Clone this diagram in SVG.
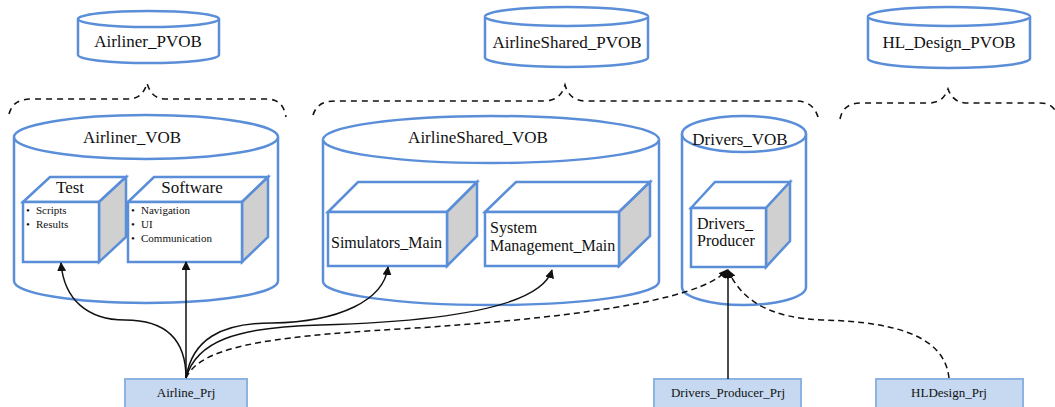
<svg xmlns="http://www.w3.org/2000/svg" width="1055" height="407" viewBox="0 0 1055 407">
<defs>
<style>
.cyl{fill:#fff;stroke:#5a8ed8;stroke-width:2.5}
.face{fill:#fff;stroke:#5a8ed8;stroke-width:2.5;stroke-linejoin:miter}
.side{fill:#d0d0d0;stroke:#5a8ed8;stroke-width:2.5}
.prj{fill:#c6d9f1;stroke:#8db3e2;stroke-width:2}
.t{font-family:"Liberation Serif","Times New Roman",serif;fill:#111}
.b{font-size:11px}
.brace{fill:none;stroke:#111;stroke-width:1.6;stroke-dasharray:6,5}
.c{fill:none;stroke:#111;stroke-width:1.5}
.d{stroke-dasharray:6,4}
</style>
<marker id="ah" viewBox="0 0 10 10" refX="9" refY="5" markerWidth="9" markerHeight="9" markerUnits="userSpaceOnUse" orient="auto">
<path d="M0,0 L10,5 L0,10 Z" fill="#111"/>
</marker>
</defs>

<g id="Airliner_PVOB">
<path class="cyl" d="M78,19 A70.5,8 0 0 1 219,19 L219,55 A70.5,8 0 0 1 78,55 Z"/>
<path class="cyl" d="M78,19 A70.5,8 0 0 0 219,19" fill="none"/>
<text class="t" x="148" y="47" font-size="17" text-anchor="middle">Airliner_PVOB</text>
</g>
<g id="AirlineShared_PVOB">
<path class="cyl" d="M485,16.5 A81.5,9.5 0 0 1 648,16.5 L648,57.5 A81.5,9.5 0 0 1 485,57.5 Z"/>
<path class="cyl" d="M485,16.5 A81.5,9.5 0 0 0 648,16.5" fill="none"/>
<text class="t" x="567" y="48" font-size="17" text-anchor="middle">AirlineShared_PVOB</text>
</g>
<g id="HL_Design_PVOB">
<path class="cyl" d="M868,16.5 A81,9.5 0 0 1 1030,16.5 L1030,58.5 A81,9.5 0 0 1 868,58.5 Z"/>
<path class="cyl" d="M868,16.5 A81,9.5 0 0 0 1030,16.5" fill="none"/>
<text class="t" x="949" y="48" font-size="17" text-anchor="middle">HL_Design_PVOB</text>
</g>

<g id="braces">
<path class="brace" d="M9,114 C12,104 18,99 32,99 L128,99 C138,99 144,94 147,83 C150,94 156,99 166,99 L266,99 C278,99 284,105 286,117"/>
<path class="brace" d="M313,115 C316,106 322,101 336,101 L544,101 C556,101 562,95 565,85 C568,95 574,101 586,101 L796,101 C808,101 815,107 818,117"/>
<path class="brace" d="M840,119 C842,109 848,103 862,103 L928,103 C940,103 945,97 948,89 C951,97 956,103 968,103 L1040,103 C1048,103 1052,106 1055,110"/>
</g>

<g id="Airliner_VOB">
<path class="cyl" d="M14,137 A132,22 0 0 1 278,137 L278,281 A132,22 0 0 1 14,281 Z"/>
<path class="cyl" d="M14,137 A132,22 0 0 0 278,137" fill="none"/>
<text class="t" x="132" y="143" font-size="17" text-anchor="middle">Airliner_VOB</text>
</g>
<g id="AirlineShared_VOB">
<path class="cyl" d="M323,139.5 A168,23.5 0 0 1 659,139.5 L659,281.5 A168,23.5 0 0 1 323,281.5 Z"/>
<path class="cyl" d="M323,139.5 A168,23.5 0 0 0 659,139.5" fill="none"/>
<text class="t" x="478" y="143" font-size="17" text-anchor="middle">AirlineShared_VOB</text>
</g>
<g id="Drivers_VOB">
<path class="cyl" d="M682,134 A62,18 0 0 1 806,134 L806,287 A62,18 0 0 1 682,287 Z"/>
<path class="cyl" d="M682,134 A62,18 0 0 0 806,134" fill="none"/>
<text class="t" x="740" y="145" font-size="17" text-anchor="middle">Drivers_VOB</text>
</g>

<g id="Test">
<polygon class="face" points="23,202 50,177 126,177 99,202"/>
<polygon class="side" points="99,202 126,177 126,237 99,262"/>
<rect class="face" x="23" y="202" width="76" height="60"/>
<text class="t" x="70" y="193" font-size="17" text-anchor="middle">Test</text>
<text class="t b" x="26" y="214">•</text><text class="t b" x="36" y="214">Scripts</text>
<text class="t b" x="26" y="228">•</text><text class="t b" x="36" y="228">Results</text>
</g>
<g id="Software">
<polygon class="face" points="128,202 154,177 268,177 242,202"/>
<polygon class="side" points="242,202 268,177 268,237 242,262"/>
<rect class="face" x="128" y="202" width="114" height="60"/>
<text class="t" x="192" y="193" font-size="17" text-anchor="middle">Software</text>
<text class="t b" x="131" y="214">•</text><text class="t b" x="141" y="214">Navigation</text>
<text class="t b" x="131" y="228">•</text><text class="t b" x="141" y="228">UI</text>
<text class="t b" x="131" y="242">•</text><text class="t b" x="141" y="242">Communication</text>
</g>
<g id="Simulators_Main">
<polygon class="face" points="328,212 358,182 477,182 447,212"/>
<polygon class="side" points="447,212 477,182 477,236 447,266"/>
<rect class="face" x="328" y="212" width="119" height="54"/>
<text class="t" x="331" y="248" font-size="16">Simulators_Main</text>
</g>
<g id="System_Management_Main">
<polygon class="face" points="485,212 516,182 650,182 619,212"/>
<polygon class="side" points="619,212 650,182 650,236 619,266"/>
<rect class="face" x="485" y="212" width="134" height="54"/>
<text class="t" font-size="16"><tspan x="490" y="233">System</tspan><tspan x="490" y="251">Management_Main</tspan></text>
</g>
<g id="Drivers_Producer">
<polygon class="face" points="691,208 715,182 790,182 766,208"/>
<polygon class="side" points="766,208 790,182 790,241 766,267"/>
<rect class="face" x="691" y="208" width="75" height="59"/>
<text class="t" font-size="16"><tspan x="697" y="229">Drivers_</tspan><tspan x="697" y="246">Producer</tspan></text>
</g>

<g id="Airline_Prj">
<rect class="prj" x="125" y="379" width="122" height="40"/>
<text class="t" x="186" y="397" font-size="13" text-anchor="middle">Airline_Prj</text>
</g>
<g id="Drivers_Producer_Prj">
<rect class="prj" x="654" y="379" width="147" height="40"/>
<text class="t" x="728" y="397" font-size="13" text-anchor="middle">Drivers_Producer_Prj</text>
</g>
<g id="HLDesign_Prj">
<rect class="prj" x="876" y="379" width="147" height="40"/>
<text class="t" x="949" y="397" font-size="13" text-anchor="middle">HLDesign_Prj</text>
</g>

<g id="connectors">
<path class="c" marker-end="url(#ah)" d="M186,378 C186,338 165,320 125,320 C88,320 64,300 61,263"/>
<path class="c" marker-end="url(#ah)" d="M186,378 L186,262"/>
<path class="c" marker-end="url(#ah)" d="M186,378 C192,340 220,323 272,323 C340,322 384,300 388,267"/>
<path class="c" marker-end="url(#ah)" d="M186,378 C196,342 235,327 320,325 C430,322 540,310 552,270"/>
<path class="c d" marker-end="url(#ah)" d="M186,378 C200,348 260,337 400,329 C560,319 700,302 727,270"/>
<path class="c" marker-end="url(#ah)" d="M728,379 L728,270"/>
<path class="c d" marker-end="url(#ah)" d="M949,378 C945,340 905,322 822,320 C772,318 742,302 728,270"/>
</g>
</svg>
